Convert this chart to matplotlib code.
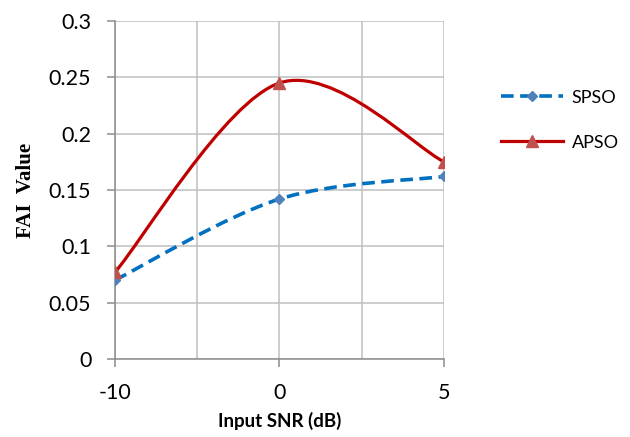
import matplotlib
matplotlib.use("Agg")
import matplotlib.pyplot as plt
import numpy as np
from matplotlib.lines import Line2D
from matplotlib.patches import PathPatch
from matplotlib.path import Path

categories = ["-10", "0", "5"]
spso = [0.07, 0.142, 0.162]
apso = [0.077, 0.245, 0.175]


def smooth_path(xs, ys):
    # Excel-style smoothed line: cubic Bezier segments through the points
    pts = np.column_stack([xs, ys]).astype(float)
    n = len(pts)
    verts = [pts[0]]
    codes = [Path.MOVETO]
    for i in range(n - 1):
        p_prev = pts[max(i - 1, 0)]
        p_next2 = pts[min(i + 2, n - 1)]
        c1 = pts[i] + (pts[i + 1] - p_prev) / 6.0
        c2 = pts[i + 1] - (p_next2 - pts[i]) / 6.0
        verts += [c1, c2, pts[i + 1]]
        codes += [Path.CURVE4] * 3
    return Path(verts, codes)


x = np.arange(len(categories))

fig = plt.figure(figsize=(6.3, 4.37), dpi=100)
ax = fig.add_axes([0.1825, 0.1785, 0.5223, 0.7735])

spso_color = "#0070C0"
apso_color = "#C00000"

ax.add_patch(PathPatch(smooth_path(x, spso), facecolor="none", edgecolor=spso_color,
                       lw=2.6, linestyle=(0, (3.5, 1.8)), capstyle="butt", zorder=3))
ax.add_patch(PathPatch(smooth_path(x, apso), facecolor="none", edgecolor=apso_color,
                       lw=2.3, zorder=3))
ax.plot(x, spso, linestyle="none", marker="D", markersize=5, color="#4F81BD", zorder=4)
ax.plot(x, apso, linestyle="none", marker="^", markersize=9, color="#C0504D", zorder=4)

ax.set_xlim(0, 2)
ax.set_ylim(0, 0.3)
ax.set_xticks(x)
ax.set_xticklabels(categories)
ax.set_xticks([0.5, 1.5], minor=True)
ax.set_yticks(np.arange(0, 0.31, 0.05))
ax.set_yticklabels(["0", "0.05", "0.1", "0.15", "0.2", "0.25", "0.3"])

ax.grid(True, which="both", color="#BEBEBE", lw=1.1)
ax.set_axisbelow(True)
for s in ["top", "right"]:
    ax.spines[s].set_visible(False)
for s in ["left", "bottom"]:
    ax.spines[s].set_color("#8C8C8C")
    ax.spines[s].set_linewidth(1.1)
ax.tick_params(axis="both", which="major", length=6, width=1.1, color="#8C8C8C",
               labelsize=15.5, pad=11)
ax.tick_params(axis="x", which="minor", length=0)
for lab in ax.get_xticklabels() + ax.get_yticklabels():
    lab.set_fontfamily("Lato")

ax.set_xlabel("Input SNR (dB)", fontsize=13.5, fontweight="bold", family="Lato", labelpad=7)
ax.set_ylabel("FAI  Value", fontsize=15, fontweight="bold", family="Liberation Serif", labelpad=9)

handles = [
    Line2D([], [], color=spso_color, lw=2.6, linestyle=(0, (3.5, 1.8)), marker="D",
           markersize=5, markerfacecolor="#4F81BD", markeredgecolor="#4F81BD"),
    Line2D([], [], color=apso_color, lw=2.3, marker="^", markersize=9,
           markerfacecolor="#C0504D", markeredgecolor="#C0504D"),
]
fig.legend(handles, ["SPSO", "APSO"], loc="center left", bbox_to_anchor=(0.77, 0.725),
           frameon=False, numpoints=1, handlelength=3.4, labelspacing=1.6,
           prop={"family": "Lato", "size": 13}, handletextpad=0.5)

fig.savefig("out.png", dpi=100)
